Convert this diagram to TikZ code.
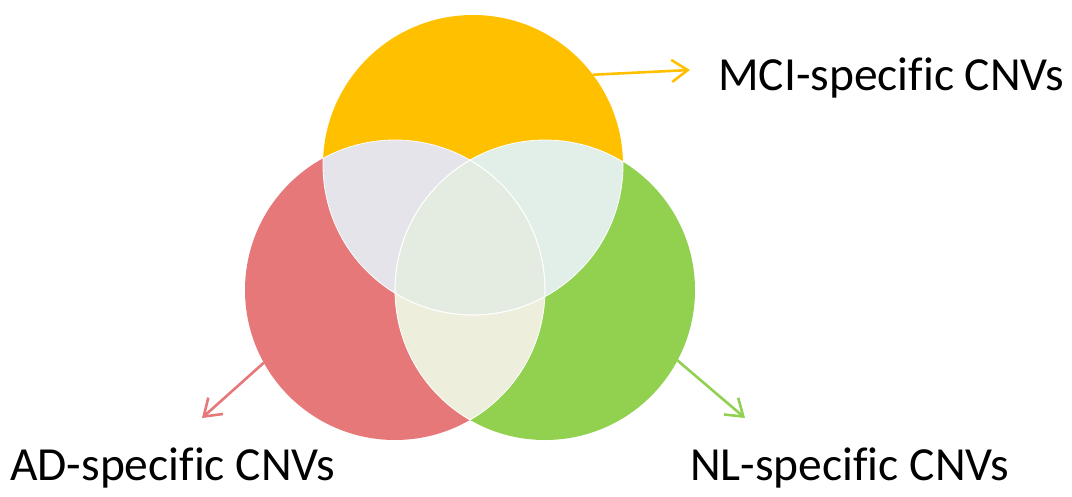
\documentclass[tikz,border=0pt]{standalone}
\usepackage{fontspec}
\setmainfont{Carlito}[Ligatures=CommonOff]
\usetikzlibrary{positioning,arrows.meta}
\definecolor{mciyellow}{RGB}{255,192,0}
\definecolor{adred}{RGB}{230,120,122}
\definecolor{nlgreen}{RGB}{146,208,80}
\definecolor{mciad}{RGB}{228,228,234}
\definecolor{mcinl}{RGB}{226,238,232}
\definecolor{adnl}{RGB}{237,239,220}
\definecolor{allthree}{RGB}{228,236,226}
\tikzset{
  set/.style={circle,minimum size=300pt,inner sep=0pt,outer sep=0pt},
  setlabel/.style={font=\fontsize{47.5}{57}\selectfont,inner sep=0pt,anchor=base west},
  setarrow/.style={-{Straight Barb[length=16pt,width=22pt]},line width=2.6pt},
  overlap/.style={draw=white,line width=0.8pt}
}
\newcommand{\lens}[3]{\begin{scope}\clip (#1.center) circle (150pt); \fill[#3] (#2.center) circle (150pt);\end{scope}}
\begin{document}
\begin{tikzpicture}[x=1pt,y=-1pt]
    \useasboundingbox (0,0) rectangle (1072,496);
    \node[set,fill=mciyellow] (mci) at (473,165) {};
    \node[set,fill=adred] (ad) at (395,290) {};
    \node[set,fill=nlgreen] (nl) at (545,290) {};

    % overlaps
    \lens{mci}{ad}{mciad}
    \lens{mci}{nl}{mcinl}
    \lens{ad}{nl}{adnl}
    \begin{scope}
        \clip (ad.center) circle (150pt);
        \clip (nl.center) circle (150pt);
        \fill[allthree] (mci.center) circle (150pt);
    \end{scope}
    \foreach \a/\b in {mci/ad,mci/nl,ad/mci,ad/nl,nl/mci,nl/ad}{
        \begin{scope}
            \clip (\b.center) circle (150pt);
            \draw[overlap] (\a.center) circle (150pt);
        \end{scope}
    }

    % labels
    \node[setlabel] (mcilbl) at (718,90) {MCI-specific CNVs};
    \node[setlabel] (adlbl) at (10,480) {AD-specific CNVs};
    \node[setlabel] (nllbl) at (690,480) {NL-specific CNVs};
    \coordinate (mcitip) at (690,70);
    \coordinate (adtip) at (202,418);
    \coordinate (nltip) at (745,418);
    \draw[setarrow,mciyellow] (mci.37) -- (mcitip);
    \draw[setarrow,adred] (ad.209) -- (adtip);
    \draw[setarrow,nlgreen] (nl.-28) -- (nltip);
\end{tikzpicture}
\end{document}
